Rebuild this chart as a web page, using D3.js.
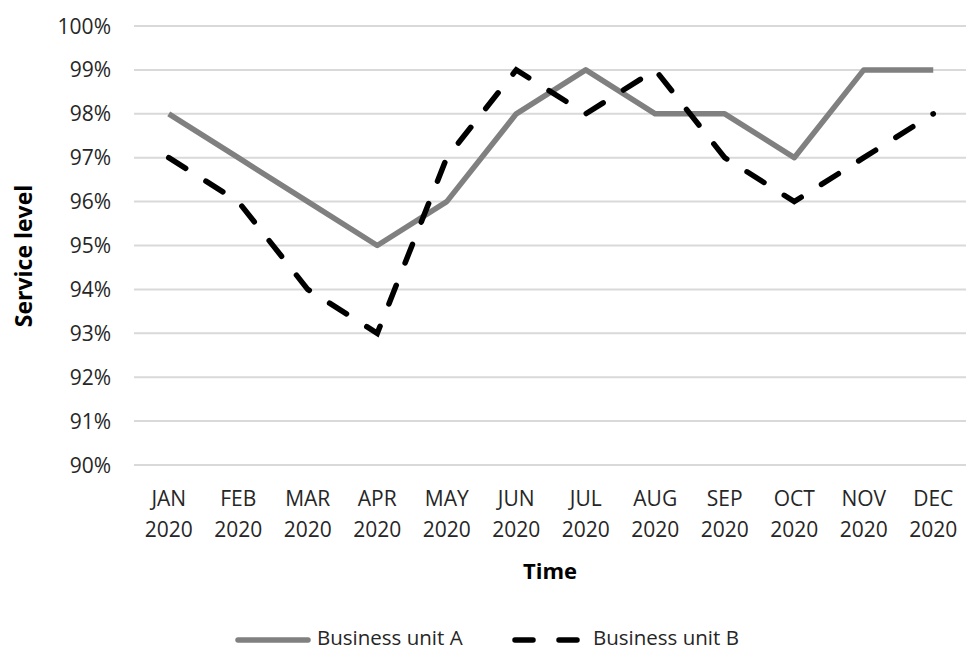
<!DOCTYPE html>
<html><head><meta charset="utf-8">
<script src="https://cdn.jsdelivr.net/npm/d3@7"></script>
<style>body{margin:0;background:#fff;} text{font-family:"Open Sans",sans-serif;fill:#262626;}</style>
</head><body>
<svg id="c" width="969" height="654"></svg>
<script>
const months = ["JAN","FEB","MAR","APR","MAY","JUN","JUL","AUG","SEP","OCT","NOV","DEC"];
const yearLabel = "2020";
const seriesA = [98,97,96,95,96,98,99,98,98,97,99,99];
const seriesB = [97,96,94,93,97,99,98,99,97,96,97,98];
const seriesNames = ["Business unit A","Business unit B"];
const yTicks = [90,91,92,93,94,95,96,97,98,99,100];

const svg = d3.select("#c");
const x = d3.scaleBand().domain(months).range([134, 968]);
const y = d3.scaleLinear().domain([90,100]).range([465, 26]);
const cx = m => x(m) + x.bandwidth()/2;

// gridlines
svg.append("g").selectAll("line").data(yTicks).join("line")
  .attr("x1",134).attr("x2",966).attr("y1",d=>y(d)).attr("y2",d=>y(d))
  .attr("stroke","#d9d9d9").attr("stroke-width",2);

// y labels
svg.append("g").selectAll("text").data(yTicks).join("text")
  .attr("x",111).attr("y",d=>y(d)).attr("dy","0.36em").attr("text-anchor","end")
  .attr("font-size",21).text(d=>d+"%");

// x labels
const xl = svg.append("g").selectAll("text").data(months).join("text")
  .attr("text-anchor","middle").attr("font-size",21);
xl.append("tspan").attr("x",d=>cx(d)).attr("y",506).text(d=>d);
xl.append("tspan").attr("x",d=>cx(d)).attr("y",537).text(yearLabel);

// titles
svg.append("text").attr("x",550).attr("y",579).attr("text-anchor","middle")
  .attr("font-size",22).attr("font-weight","bold").style("fill","#000").text("Time");
svg.append("text").attr("transform","translate(32,256) rotate(-90)").attr("text-anchor","middle")
  .attr("font-size",23).attr("font-weight","bold").style("fill","#000").text("Service level");

const line = d3.line().x((d,i)=>cx(months[i])).y(d=>y(d));
svg.append("path").attr("d",line(seriesA)).attr("fill","none")
  .attr("stroke","#808080").attr("stroke-width",5.5).attr("stroke-linejoin","round");
svg.append("path").attr("d",line(seriesB)).attr("fill","none")
  .attr("stroke","#000").attr("stroke-width",5.5).attr("stroke-dasharray","20,24").attr("stroke-linecap","round");

// legend
const ly = 638;
svg.append("line").attr("x1",238).attr("x2",308).attr("y1",ly+2).attr("y2",ly+2)
  .attr("stroke","#808080").attr("stroke-width",5.5).attr("stroke-linecap","round");
svg.append("text").attr("x",317).attr("y",ly).attr("dy","0.36em").attr("font-size",20.5).text(seriesNames[0]);
svg.append("line").attr("x1",515).attr("x2",580).attr("y1",ly+2).attr("y2",ly+2)
  .attr("stroke","#000").attr("stroke-width",5.5).attr("stroke-linecap","round").attr("stroke-dasharray","18,26");
svg.append("text").attr("x",593).attr("y",ly).attr("dy","0.36em").attr("font-size",20.5).text(seriesNames[1]);
</script>
</body></html>
